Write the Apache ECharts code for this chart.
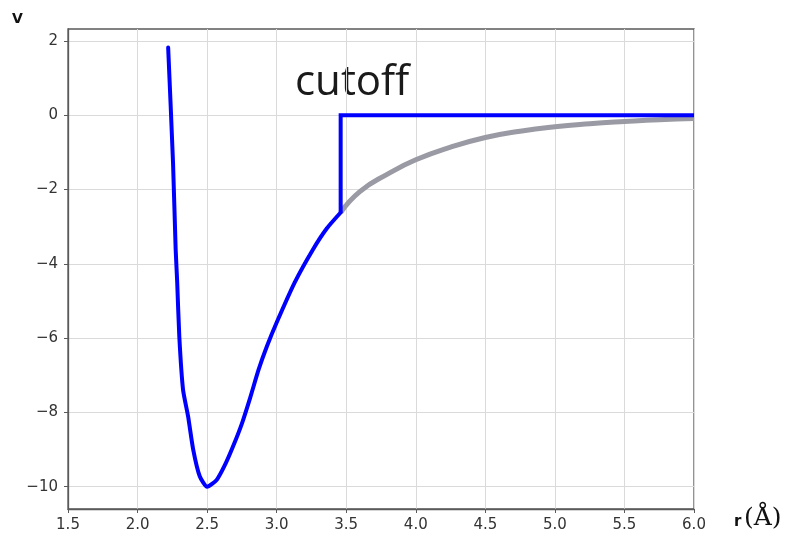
<!DOCTYPE html>
<html>
<head>
<meta charset="utf-8">
<title>Potential with cutoff</title>
<script src="https://cdn.jsdelivr.net/npm/echarts@6/dist/echarts.min.js"></script>
<style>
  html, body { margin: 0; padding: 0; background: #fff; }
  #chart { width: 786px; height: 541px; }
</style>
</head>
<body>
<div id="chart"></div>
<script>
// Truncated potential V(r): blue = potential used (cut at rc), gray = full tail beyond rc
const cutoffR = 3.46;

const potentialCurve = [
  [2.22, 1.82], [2.255, -1.28], [2.274, -3.62], [2.285, -4.5], [2.30, -5.95],
  [2.327, -7.39], [2.363, -8.1], [2.40, -9.0], [2.447, -9.72], [2.50, -10.0],
  [2.57, -9.81], [2.63, -9.4], [2.686, -8.92], [2.75, -8.3], [2.81, -7.6],
  [2.87, -6.85], [2.93, -6.22], [3.0, -5.58], [3.13, -4.5], [3.26, -3.62],
  [3.36, -3.05], [3.46, -2.62]
];

const cutoffStep = [[3.46, -2.62], [3.46, 0], [6.0, 0]];

const fullTail = [
  [3.46, -2.62], [3.6, -2.05], [3.8, -1.58], [4.0, -1.2], [4.25, -0.86],
  [4.5, -0.6], [4.75, -0.43], [5.0, -0.31], [5.25, -0.23], [5.5, -0.17],
  [5.75, -0.12], [6.0, -0.09]
];

const xTicks = [1.5, 2.0, 2.5, 3.0, 3.5, 4.0, 4.5, 5.0, 5.5, 6.0];
const yTicks = [-10, -8, -6, -4, -2, 0, 2];

const tickFont = { fontFamily: 'DejaVu Sans', fontSize: 15, color: '#333' };
const frameColor = '#5a5a5a';

const chart = echarts.init(document.getElementById('chart'), null, { renderer: 'canvas' });

chart.setOption({
  animation: false,
  backgroundColor: '#fff',
  grid: {
    left: 68, right: 92, top: 29, bottom: 32,
    show: true, borderColor: frameColor, borderWidth: 1.3, backgroundColor: 'transparent'
  },
  xAxis: {
    type: 'value',
    min: 1.5, max: 6.0, interval: 0.5,
    axisLine: { show: true, onZero: false, lineStyle: { color: frameColor, width: 1.3 } },
    axisTick: { show: true, length: 4, lineStyle: { color: frameColor } },
    axisLabel: Object.assign({ margin: 9, formatter: v => v.toFixed(1) }, tickFont),
    splitLine: { show: true, lineStyle: { color: '#dadada', width: 1 } }
  },
  yAxis: {
    type: 'value',
    min: -10.6, max: 2.32,
    axisLine: { show: true, onZero: false, lineStyle: { color: frameColor, width: 1.3 } },
    axisTick: { show: true, length: 4, customValues: yTicks, lineStyle: { color: frameColor } },
    axisLabel: Object.assign({
      margin: 10, customValues: yTicks,
      formatter: v => String(v).replace('-', '\u2212')
    }, tickFont),
    splitLine: { show: true, lineStyle: { color: '#dadada', width: 1 } }
  },
  graphic: [
    { type: 'text', left: 12, top: 12,
      style: { text: 'V', font: 'bold 14px "DejaVu Sans"', fill: '#111' } },
    { type: 'text', left: 734, top: 515,
      style: { text: 'r', font: 'bold 15px "DejaVu Sans"', fill: '#111' } },
    { type: 'text', left: 744, top: 506,
      style: { text: '(\u00C5)', font: '25px "DejaVu Serif"', fill: '#111' } },
    { type: 'text', left: 295, top: 62,
      style: { text: 'cutoff', font: '42px "Open Sans"', fill: '#1a1a1a' } }
  ],
  series: [
    {
      type: 'line', name: 'full', data: fullTail,
      showSymbol: false, smooth: true, z: 2,
      lineStyle: { color: '#9a9aa4', width: 5 }
    },
    {
      type: 'line', name: 'potential', data: potentialCurve,
      showSymbol: false, smooth: 0.2, z: 3,
      lineStyle: { color: '#0000ff', width: 4, join: 'round', cap: 'round' }
    },
    {
      type: 'line', name: 'cutoff', data: cutoffStep,
      showSymbol: false, smooth: false, z: 3,
      lineStyle: { color: '#0000ff', width: 4, join: 'miter', cap: 'butt' }
    }
  ]
});
</script>
</body>
</html>
